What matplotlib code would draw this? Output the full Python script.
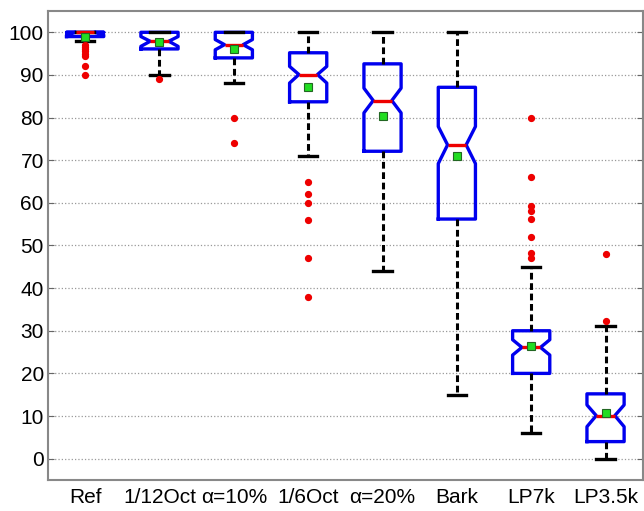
import matplotlib
matplotlib.use("Agg")
import matplotlib.pyplot as plt

plt.rcParams['font.family'] = ['Liberation Sans', 'DejaVu Sans']

labels = ["Ref", "1/12Oct", "α=10%", "1/6Oct", "α=20%", "Bark", "LP7k", "LP3.5k"]
q1 = [99.0, 96.1, 94.0, 83.7, 72.1, 56.2, 20.0, 4.0]
q3 = [100.0, 100.0, 100.0, 95.2, 92.6, 87.1, 30.0, 15.2]
medians = [100.0, 97.9, 97.1, 90.1, 84.0, 73.6, 26.1, 10.1]
ci_low = [99.4, 96.7, 95.9, 88.1, 81.1, 69.2, 24.3, 7.5]
ci_high = [100.0, 99.0, 98.3, 92.0, 86.9, 77.9, 27.9, 12.6]
means = [98.9, 97.7, 96.2, 87.2, 80.3, 71.0, 26.5, 10.8]
whisker_low = [98.0, 90.0, 88.0, 71.0, 44.0, 15.0, 6.0, 0.0]
whisker_high = [100.0, 100.0, 100.0, 100.0, 100.0, 100.0, 45.0, 31.0]
outliers = [
    [97, 96.5, 96, 95.5, 95, 94.5, 92, 90],
    [89],
    [80, 74],
    [65, 62, 60, 56, 47, 38],
    [],
    [],
    [80, 66, 59.2, 58, 56.2, 52, 48.2, 47],
    [48, 32.2],
]

stats = []
for i in range(len(labels)):
    stats.append(dict(label=labels[i], q1=q1[i], q3=q3[i], med=medians[i],
                      cilo=ci_low[i], cihi=ci_high[i], mean=means[i],
                      whislo=whisker_low[i], whishi=whisker_high[i],
                      fliers=outliers[i]))

fig = plt.figure(figsize=(6.44, 5.11), dpi=100)
ax = fig.add_axes([0.0745, 0.0607, 0.9235, 0.9178])

ax.bxp(stats, positions=range(1, len(labels) + 1), widths=0.5, shownotches=True,
       showmeans=True, showfliers=True, capwidths=0.25,
       boxprops=dict(color='#0000ee', linewidth=2.4),
       medianprops=dict(color='#ee0000', linewidth=2.4),
       whiskerprops=dict(color='black', linewidth=2.2, linestyle=(0, (2.2, 1.2))),
       capprops=dict(color='black', linewidth=2.4),
       flierprops=dict(marker='o', markerfacecolor='#ee0000', markeredgecolor='#ee0000',
                       markersize=4.2, linestyle='none'),
       meanprops=dict(marker='s', markerfacecolor='#22dd22', markeredgecolor='#226622',
                      markersize=6, markeredgewidth=0.8))

ax.set_xlim(0.5, 8.5)
ax.set_ylim(-5, 105)
ax.set_yticks(range(0, 101, 10))
ax.yaxis.grid(True, linestyle=':', color='#999999', linewidth=0.9)
ax.set_axisbelow(True)
ax.tick_params(axis='y', direction='in', length=4, right=True, left=True,
               labelsize=15, color='#666666', pad=3)
ax.tick_params(axis='x', length=0, labelsize=15, pad=6)
for s in ax.spines.values():
    s.set_color('#888888')
    s.set_linewidth(1.5)

fig.savefig("out.png", dpi=100)
